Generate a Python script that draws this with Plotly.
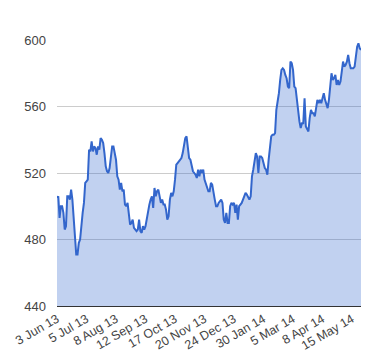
import plotly.graph_objects as go

# Daily closing values (trading days, 3 Jun 13 -> ~end May 14)
values = [
    505, 506, 493, 500, 500, 496, 486, 488, 506, 506,
    504, 510, 504, 492, 476, 471, 471, 478, 480, 490,
    496, 502, 514, 515, 516, 534, 533, 539, 533, 536,
    535, 531, 536, 534, 541, 540, 538, 532, 524, 521,
    520, 523, 530, 536, 536, 532, 528, 518, 516, 510,
    514, 509, 510, 501, 500, 502, 494, 489, 490, 492,
    487, 486, 485, 486, 492, 485, 484, 488, 486, 488,
    493, 496, 501, 504, 506, 499, 511, 506, 509, 510,
    506, 502, 504, 501, 501, 498, 492, 494, 504, 508,
    506, 509, 516, 525, 526, 527, 528, 529, 532, 537,
    541, 542, 536, 529, 528, 524, 521, 520, 519, 517,
    522, 518, 522, 520, 522, 516, 514, 511, 509, 509,
    514, 513, 507, 504, 500, 500, 502, 503, 504, 502,
    492, 490, 496, 490, 490, 500, 502, 501, 502, 496,
    501, 492, 500, 501, 502, 504, 506, 508, 507, 505,
    504, 506, 518, 522, 528, 532, 530, 520, 530, 530,
    529, 526, 523, 522, 519, 528, 536, 542, 543, 543,
    544, 558, 563, 568, 576, 582, 583, 582, 579, 577,
    572, 571, 587, 586, 582, 572, 571, 564, 554, 551,
    547, 550, 550, 565, 548, 546, 545, 553, 558, 556,
    556, 554, 560, 564, 562, 564, 562, 566, 568, 564,
    561, 559, 564, 575, 580, 576, 577, 579, 573, 576,
    573, 575, 582, 587, 584, 585, 587, 591, 586, 583,
    583, 583, 584, 589, 596, 598, 595, 594,
]

tick_labels = ["3 Jun 13", "5 Jul 13", "8 Aug 13", "12 Sep 13", "17 Oct 13",
               "20 Nov 13", "24 Dec 13", "30 Jan 14", "5 Mar 14", "8 Apr 14",
               "15 May 14"]
label_step = 23  # trading days between shown labels
y_ticks = [440, 480, 520, 560, 600]

x = list(range(len(values)))
tick_pos = [i * label_step for i in range(len(tick_labels))]

fig = go.Figure()
fig.add_trace(go.Scatter(
    x=x, y=values, mode="lines",
    line=dict(color="#3366cc", width=2),
    fill="tozeroy", fillcolor="rgba(51,102,204,0.3)",
    hoverinfo="skip",
))

fig.update_layout(
    width=372, height=352,
    margin=dict(l=49, r=19, t=32, b=54),
    paper_bgcolor="white", plot_bgcolor="white",
    showlegend=False,
    font=dict(family="Liberation Sans, Arial, sans-serif", size=12, color="#444"),
)
fig.update_xaxes(
    range=[0, len(values) - 1],
    tickvals=tick_pos, ticktext=tick_labels, tickangle=-30,
    showgrid=False, zeroline=False, automargin=False,
    showline=True, linecolor="#333", linewidth=1,
    ticks="", tickfont=dict(size=12.5, color="#444"),
)
fig.update_yaxes(
    range=[440, 600], tickvals=y_ticks, automargin=False,
    showgrid=True, gridcolor="#cccccc", gridwidth=1,
    zeroline=False, showline=False, ticks="",
    ticklabelstandoff=10,
    tickfont=dict(size=13, color="#444"),
)

fig.write_html("out.html")
